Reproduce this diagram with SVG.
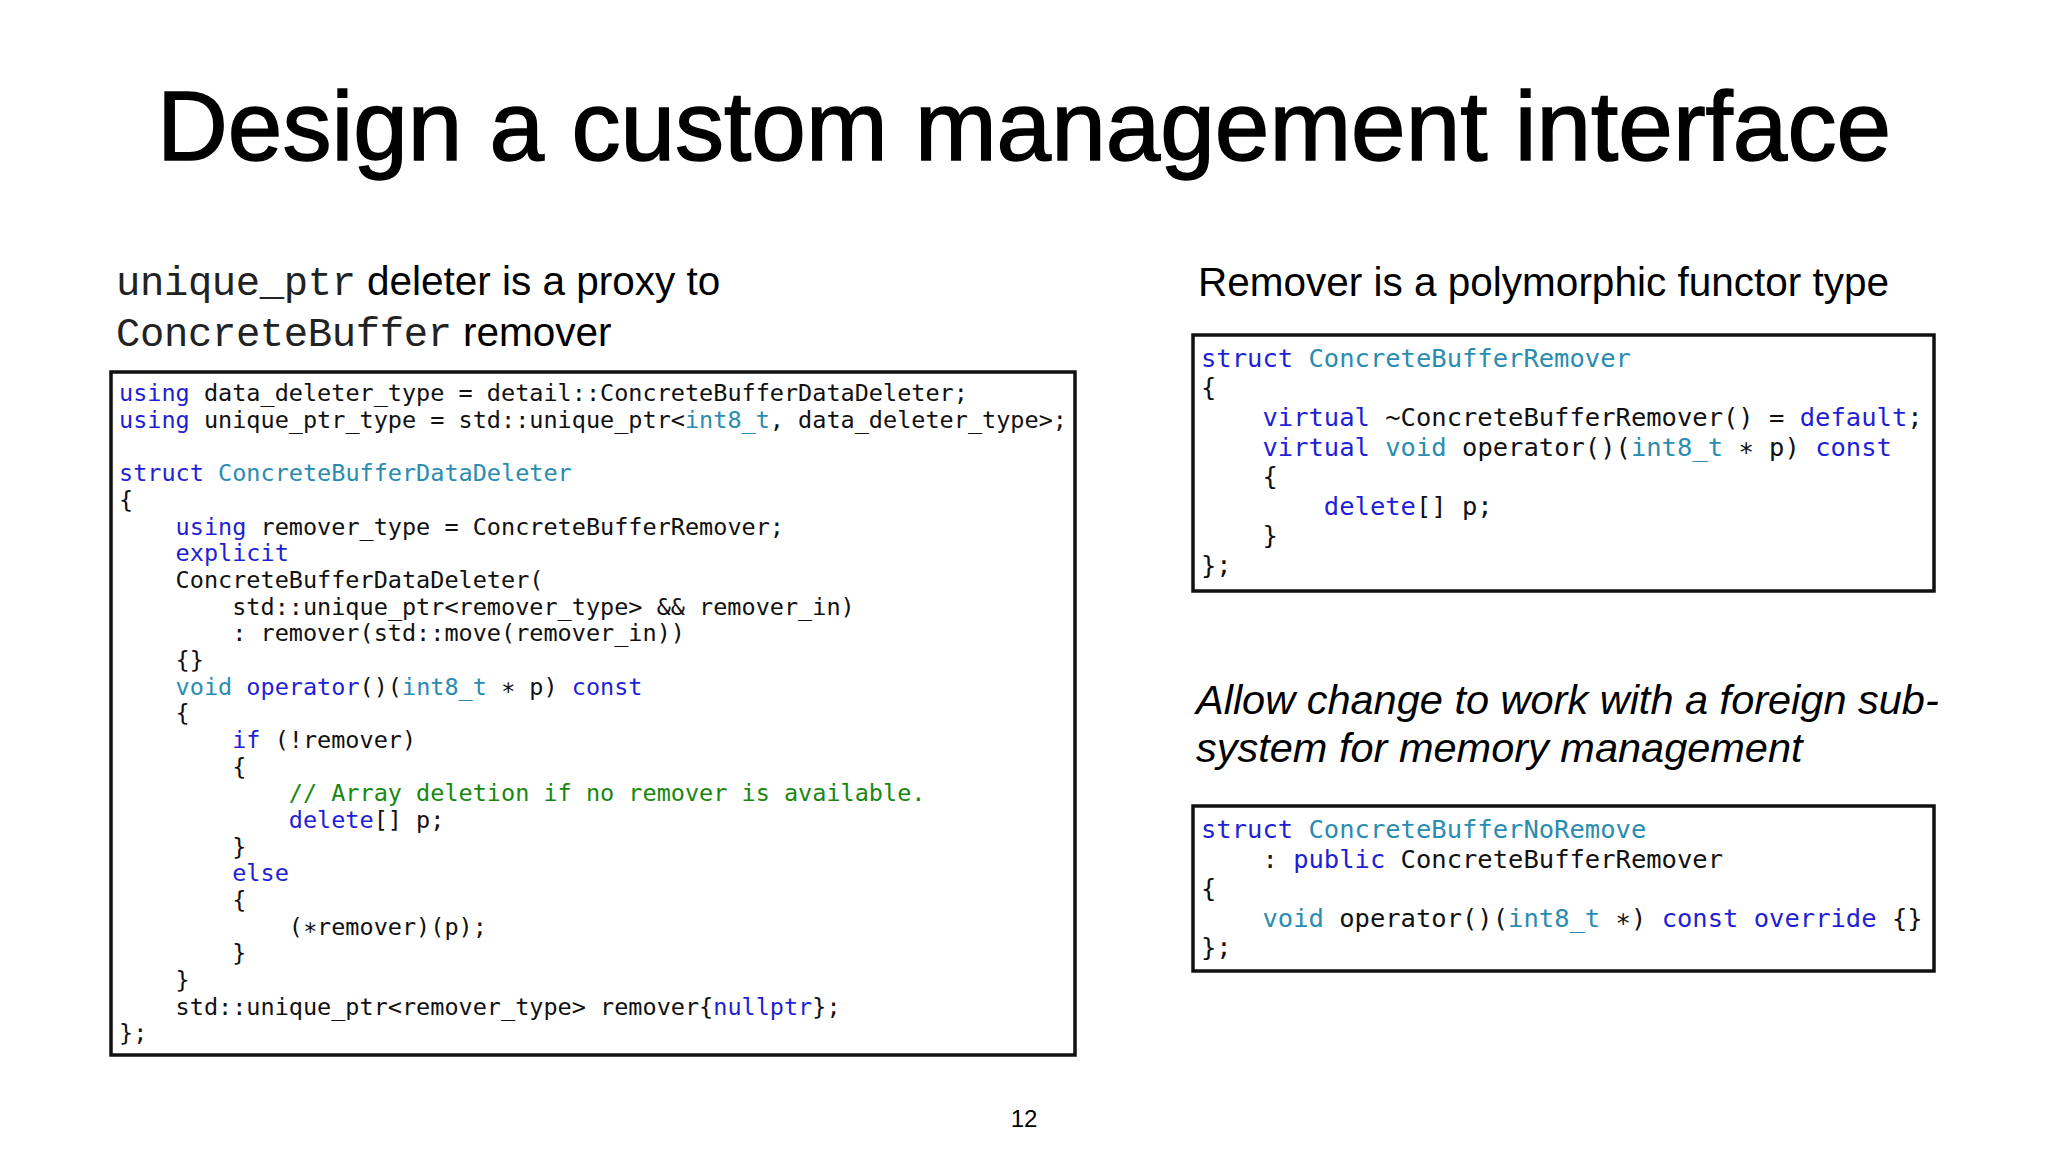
<svg xmlns="http://www.w3.org/2000/svg" width="2048" height="1152" viewBox="0 0 2048 1152">
<style>
.code{font-family:"DejaVu Sans Mono","Liberation Mono",monospace;fill:#111;white-space:pre}
.k{fill:#1f1fd6}.t{fill:#2a8cb0}.c{fill:#17880f}
.box{fill:#fff;stroke:#111;stroke-width:3.5}
.sans{font-family:"Liberation Sans",Arial,sans-serif;fill:#000}
</style>
<rect width="2048" height="1152" fill="#fff"/>
<text class="sans" x="1024" y="160" text-anchor="middle" font-size="98" stroke="#000" stroke-width="1.5" textLength="1734" lengthAdjust="spacingAndGlyphs">Design a custom management interface</text>
<g id="left-heading">
<text x="116" y="295" font-size="40.5"><tspan style="font-family:'Liberation Mono',monospace" fill="#222" textLength="240">unique_ptr</tspan><tspan class="sans"> deleter is a proxy to</tspan></text>
<text x="116" y="346" font-size="40.5"><tspan style="font-family:'Liberation Mono',monospace" fill="#222" textLength="336">ConcreteBuffer</tspan><tspan class="sans"> remover</tspan></text>
</g>
<g id="left-code">
<rect class="box" x="111" y="372" width="964" height="683"/>
<text class="code" font-size="23.5" xml:space="preserve">
<tspan x="119" y="401"><tspan class="k">using</tspan> data_deleter_type = detail::ConcreteBufferDataDeleter;</tspan>
<tspan x="119" y="428"><tspan class="k">using</tspan> unique_ptr_type = std::unique_ptr&lt;<tspan class="t">int8_t</tspan>, data_deleter_type&gt;;</tspan>
<tspan x="119" y="481"><tspan class="k">struct</tspan> <tspan class="t">ConcreteBufferDataDeleter</tspan></tspan>
<tspan x="119" y="508">{</tspan>
<tspan x="119" y="535">    <tspan class="k">using</tspan> remover_type = ConcreteBufferRemover;</tspan>
<tspan x="119" y="561">    <tspan class="k">explicit</tspan></tspan>
<tspan x="119" y="588">    ConcreteBufferDataDeleter(</tspan>
<tspan x="119" y="615">        std::unique_ptr&lt;remover_type&gt; &amp;&amp; remover_in)</tspan>
<tspan x="119" y="641">        : remover(std::move(remover_in))</tspan>
<tspan x="119" y="668">    {}</tspan>
<tspan x="119" y="695">    <tspan class="t">void</tspan> <tspan class="k">operator</tspan>()(<tspan class="t">int8_t</tspan> ∗ p) <tspan class="k">const</tspan></tspan>
<tspan x="119" y="721">    {</tspan>
<tspan x="119" y="748">        <tspan class="k">if</tspan> (!remover)</tspan>
<tspan x="119" y="775">        {</tspan>
<tspan x="119" y="801">            <tspan class="c">// Array deletion if no remover is available.</tspan></tspan>
<tspan x="119" y="828">            <tspan class="k">delete</tspan>[] p;</tspan>
<tspan x="119" y="855">        }</tspan>
<tspan x="119" y="881">        <tspan class="k">else</tspan></tspan>
<tspan x="119" y="908">        {</tspan>
<tspan x="119" y="935">            (∗remover)(p);</tspan>
<tspan x="119" y="961">        }</tspan>
<tspan x="119" y="988">    }</tspan>
<tspan x="119" y="1015">    std::unique_ptr&lt;remover_type&gt; remover{<tspan class="k">nullptr</tspan>};</tspan>
<tspan x="119" y="1041">};</tspan>
</text>
</g>
<g id="right-heading">
<text class="sans" x="1198" y="296" font-size="40.5">Remover is a polymorphic functor type</text>
</g>
<g id="remover-code">
<rect class="box" x="1193" y="335" width="741" height="256"/>
<text class="code" font-size="25.5" xml:space="preserve">
<tspan x="1201" y="367"><tspan class="k">struct</tspan> <tspan class="t">ConcreteBufferRemover</tspan></tspan>
<tspan x="1201" y="396">{</tspan>
<tspan x="1201" y="426">    <tspan class="k">virtual</tspan> ~ConcreteBufferRemover() = <tspan class="k">default</tspan>;</tspan>
<tspan x="1201" y="456">    <tspan class="k">virtual</tspan> <tspan class="t">void</tspan> operator()(<tspan class="t">int8_t</tspan> ∗ p) <tspan class="k">const</tspan></tspan>
<tspan x="1201" y="485">    {</tspan>
<tspan x="1201" y="515">        <tspan class="k">delete</tspan>[] p;</tspan>
<tspan x="1201" y="544">    }</tspan>
<tspan x="1201" y="574">};</tspan>
</text>
</g>
<g id="foreign-note">
<text class="sans" x="1196" y="714" font-size="41.5" font-style="italic">Allow change to work with a foreign sub-</text>
<text class="sans" x="1196" y="762" font-size="41.5" font-style="italic">system for memory management</text>
</g>
<g id="noremove-code">
<rect class="box" x="1193" y="806" width="741" height="165"/>
<text class="code" font-size="25.5" xml:space="preserve">
<tspan x="1201" y="838"><tspan class="k">struct</tspan> <tspan class="t">ConcreteBufferNoRemove</tspan></tspan>
<tspan x="1201" y="868">    : <tspan class="k">public</tspan> ConcreteBufferRemover</tspan>
<tspan x="1201" y="897">{</tspan>
<tspan x="1201" y="927">    <tspan class="t">void</tspan> operator()(<tspan class="t">int8_t</tspan> ∗) <tspan class="k">const</tspan> <tspan class="k">override</tspan> {}</tspan>
<tspan x="1201" y="956">};</tspan>
</text>
</g>
<g id="connectors"/>
<text class="sans" x="1024" y="1127" font-size="24" text-anchor="middle">12</text>
</svg>
